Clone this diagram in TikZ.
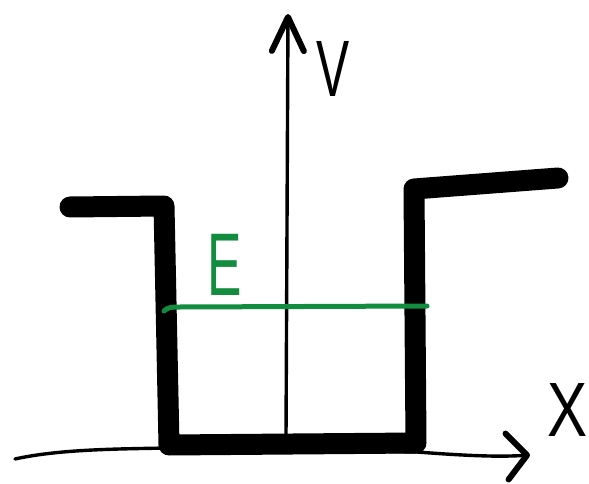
\documentclass[tikz,border=0pt]{standalone}
\usepackage{fontspec}
\setmainfont{Liberation Sans}
\usetikzlibrary{arrows.meta}
\definecolor{energygreen}{RGB}{18,140,62}

\begin{document}
\begin{tikzpicture}[
  x=1pt, y=-1pt,
  axis/.style={line width=3.4pt, line cap=round},
  well/.style={line width=21pt, line cap=round, line join=round},
  level/.style={line width=5pt, energygreen, line cap=round},
  letter/.style={inner sep=0pt, font=\fontsize{80}{80}\selectfont},
]
  \useasboundingbox (0,0) rectangle (589,484);

  % axes
  \coordinate (v0) at (286,437);
  \coordinate (v1) at (288,14);
  \coordinate (x0) at (15,459);
  \coordinate (x1) at (530,455);
  \draw[axis, -{Straight Barb[length=34pt, width=32pt, line width=6pt, round]}] (v0) -- (v1);
  \draw[axis, -{Straight Barb[length=20pt, width=46pt, line width=6pt, round]}]
    (x0) .. controls (60,449) and (120,449) .. (167,448)
    -- (417,452) .. controls (470,456) and (500,457) .. (x1);

  % potential well
  \coordinate (w0) at (70,207);
  \coordinate (w1) at (164,206);
  \coordinate (w2) at (169,445);
  \coordinate (w3) at (416,443);
  \coordinate (w4) at (414,189);
  \coordinate (w5) at (558,178);
  \draw[well] (w0) -- (w1) -- (w2) -- (w3) -- (w4) -- (w5);

  % energy level
  \coordinate (e0) at (164,311);
  \coordinate (e1) at (427,306);
  \draw[level] (e0) .. controls (168,307) and (172,307) .. (180,307) -- (e1);

  % labels
  \node[letter, xscale=0.62] (vlab) at (333,69) {V};
  \node[letter, xscale=0.58, energygreen, font=\fontsize{89}{89}\selectfont] (elab) at (225,265) {E};
  \node[letter, xscale=0.78, font=\fontsize{77}{77}\selectfont] (xlab) at (568,410) {X};
\end{tikzpicture}
\end{document}
